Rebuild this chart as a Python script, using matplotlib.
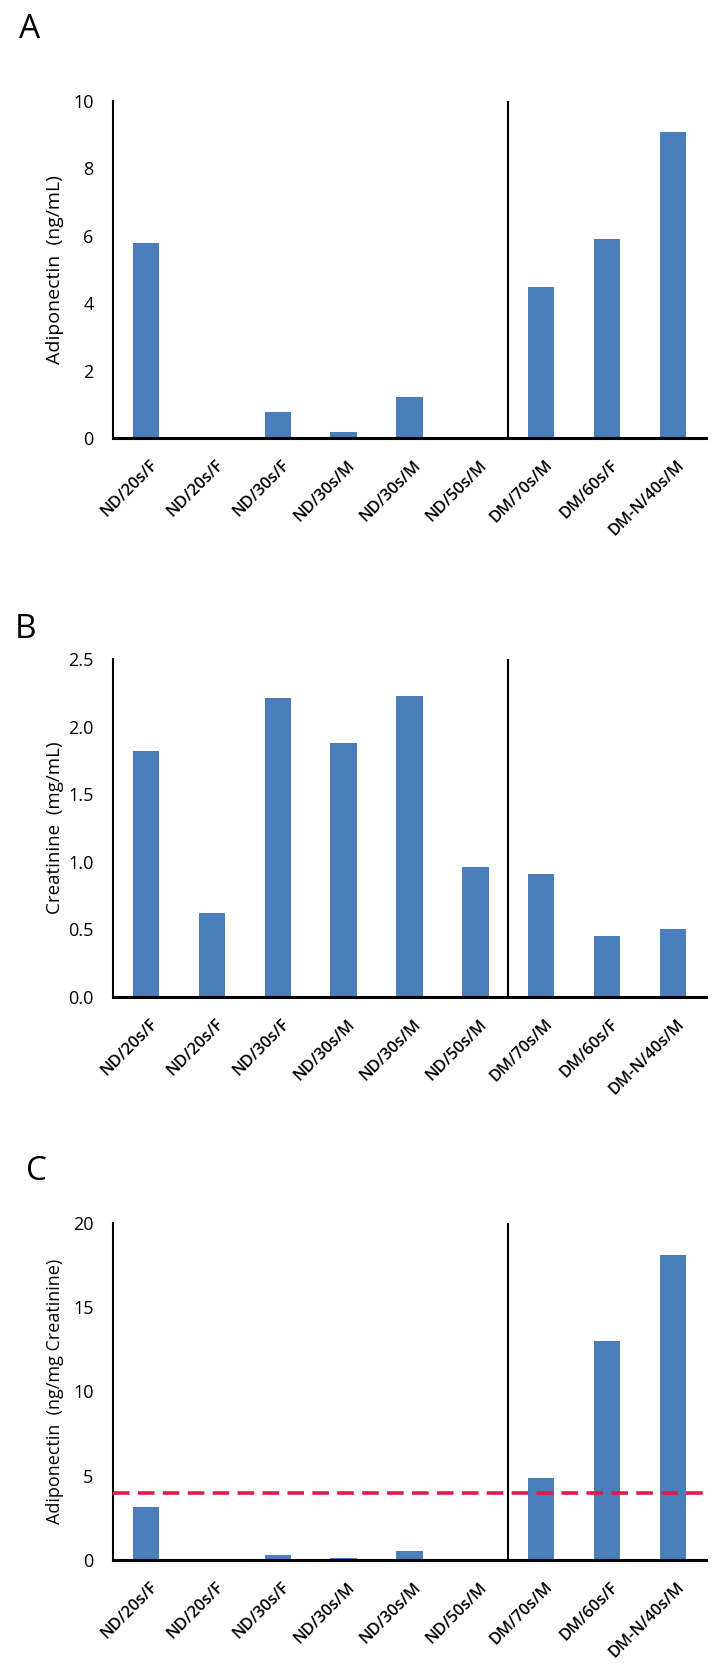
import numpy as np
import matplotlib
matplotlib.use("Agg")
import matplotlib.pyplot as plt
import matplotlib.transforms as mtransforms

categories = ["ND/20s/F", "ND/20s/F", "ND/30s/F", "ND/30s/M", "ND/30s/M",
              "ND/50s/M", "DM/70s/M", "DM/60s/F", "DM-N/40s/M"]
adiponectin = [5.80, 0.0, 0.77, 0.19, 1.23, 0.04, 4.48, 5.90, 9.08]
creatinine = [1.82, 0.62, 2.21, 1.88, 2.23, 0.96, 0.91, 0.45, 0.50]
adipo_per_creat = [3.13, 0.0, 0.30, 0.09, 0.51, 0.02, 4.87, 12.98, 18.13]
cutoff = 4.0

panel_letters = ["A", "B", "C"]
ylabels = ["Adiponectin  (ng/mL)", "Creatinine  (mg/mL)", "Adiponectin  (ng/mg Creatinine)"]
yticks = [[0, 2, 4, 6, 8, 10], [0.0, 0.5, 1.0, 1.5, 2.0, 2.5], [0, 5, 10, 15, 20]]
ytick_fmt = ["{:.0f}", "{:.1f}", "{:.0f}"]
series = [adiponectin, creatinine, adipo_per_creat]

plt.rcParams["font.family"] = ["Open Sans", "DejaVu Sans"]

BAR = "#4A7EBB"
W, H = 723, 1672
fig = plt.figure(figsize=(W / 100, H / 100), dpi=100)

# axes boxes in pixels: (top, baseline)
boxes = [(101, 438), (659, 997), (1223, 1560)]
letter_pos = [(30, 30), (25, 630), (36, 1172)]
label_size = [14, 13.5, 13]
left_px, right_px = 113, 706

for i, (top, base) in enumerate(boxes):
    ax = fig.add_axes([left_px / W, 1 - base / H, (right_px - left_px) / W, (base - top) / H])
    x = np.arange(len(categories))
    ax.bar(x, series[i], width=0.4, color=BAR, zorder=2)
    ax.set_xlim(-0.5, len(categories) - 0.5)
    ax.set_ylim(yticks[i][0], yticks[i][-1])
    ax.axvline(5.5, color="black", lw=1.5, zorder=3)
    if i == 2:
        ax.axhline(cutoff, color="#DC1E4B", lw=2.6, ls=(0, (4.6, 2.3)), zorder=4)

    for s in ["top", "right"]:
        ax.spines[s].set_visible(False)
    ax.spines["left"].set_linewidth(1.5)
    ax.spines["bottom"].set_linewidth(2.2)

    ax.set_yticks(yticks[i])
    ax.set_yticklabels([ytick_fmt[i].format(v) for v in yticks[i]], fontsize=13)
    ax.tick_params(axis="y", length=0, pad=14)
    ax.set_xticks(x)
    ax.set_xticklabels(categories, rotation=45, ha="right", va="center",
                       rotation_mode="anchor", fontsize=11.8, fontweight="semibold")
    ax.tick_params(axis="x", length=0, pad=18)
    offset = mtransforms.ScaledTranslation(9 / 100, 0, fig.dpi_scale_trans)
    for lab in ax.get_xticklabels():
        lab.set_transform(lab.get_transform() + offset)

    ax.set_ylabel(ylabels[i], fontsize=label_size[i])
    ax.yaxis.set_label_coords(-0.082, 0.5)

    lx, ly = letter_pos[i]
    fig.text(lx / W, 1 - ly / H, panel_letters[i], fontsize=24,
             ha="center", va="center")

fig.savefig("out.png", dpi=100)
plt.close(fig)
